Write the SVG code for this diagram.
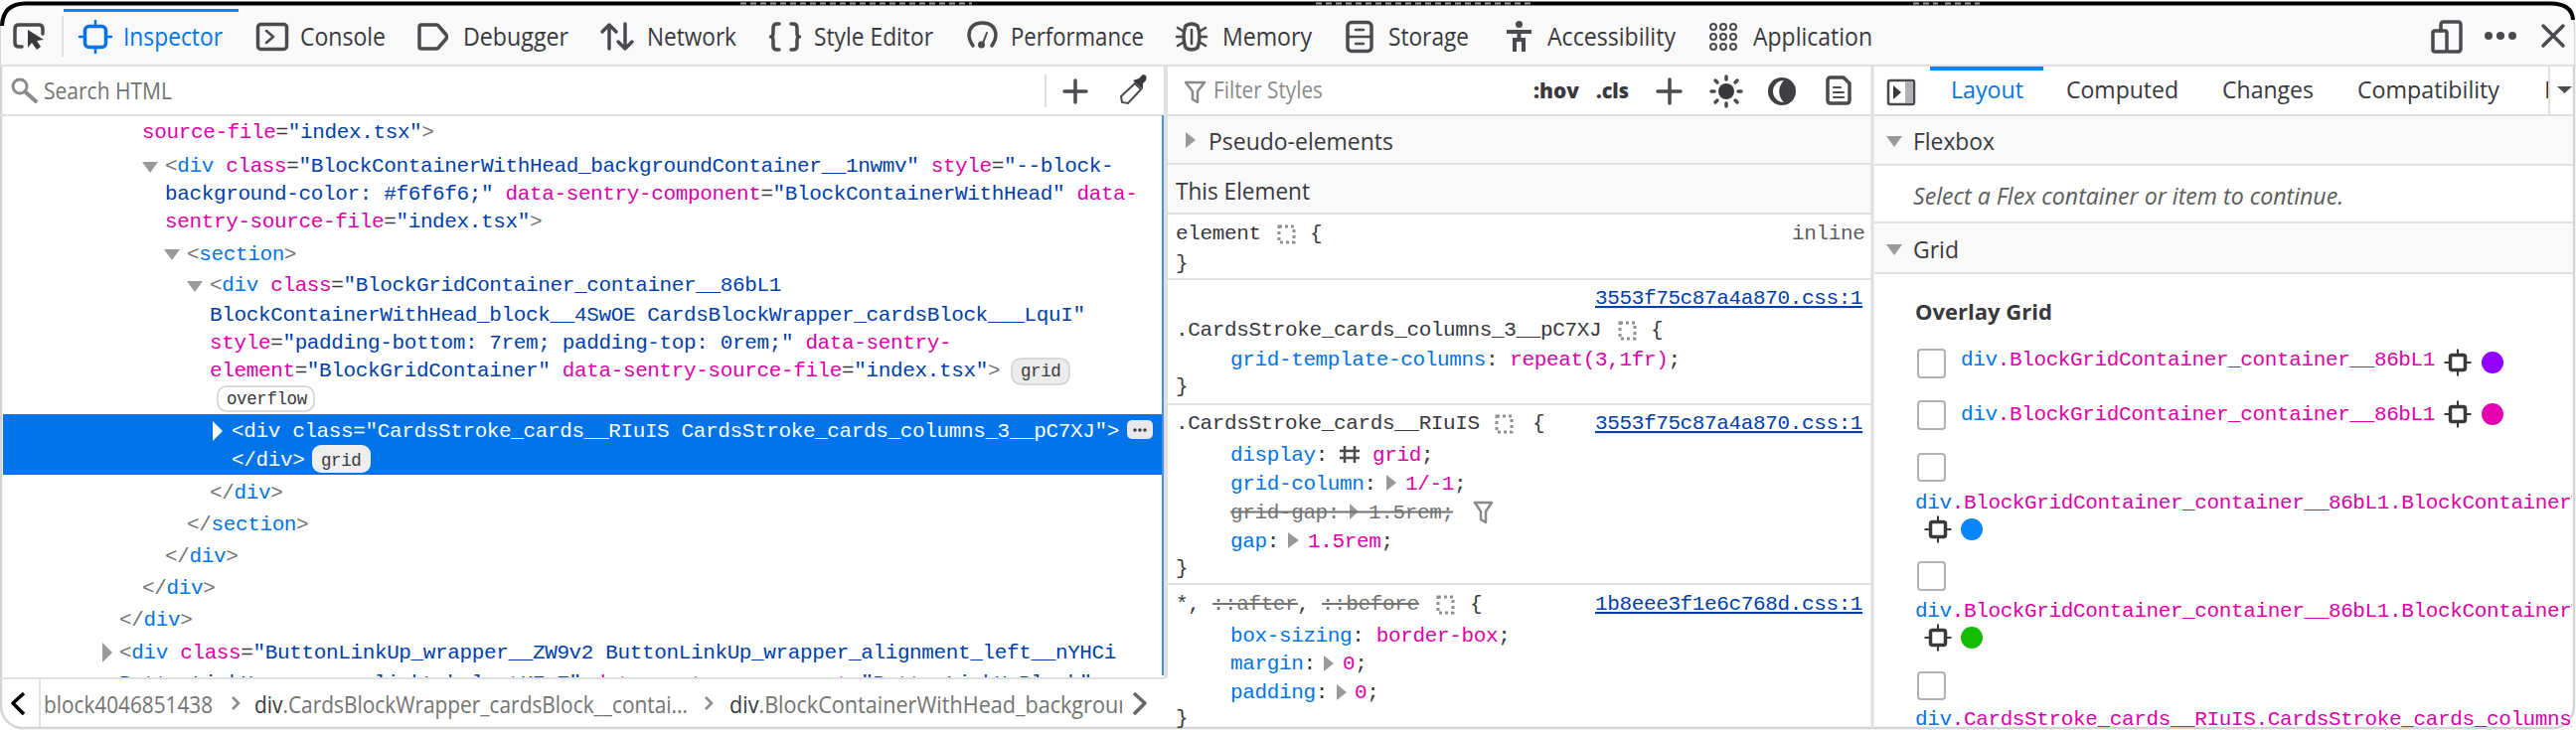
<svg xmlns="http://www.w3.org/2000/svg" width="2592" height="735" viewBox="0 0 2592 735">
<style>
text{white-space:pre}
.m{font-family:"Liberation Mono","DejaVu Sans Mono",monospace;font-size:21px;letter-spacing:-.37px;fill:#38383d}
.u{font-family:"Open Sans","Noto Sans",sans-serif;font-size:25px;fill:#38383d}
.s{font-size:24px}
.t{fill:#0074e8}.a{fill:#dd00a9}.v{fill:#003eaa}.p{fill:#737373}.d{fill:#38383d}.g{fill:#737373}
.w{fill:#fff}
.b{font-family:"Liberation Mono",monospace;font-size:17.5px;letter-spacing:-.4px;fill:#38383d}
.line{stroke:#e0e0e2;stroke-width:2;fill:none}
.ic{fill:none;stroke:#4a4a4f;stroke-width:3.5;stroke-linecap:round;stroke-linejoin:round}
.ig{fill:none;stroke:#8a8a8a;stroke-width:3;stroke-linecap:round;stroke-linejoin:round}
.tri{fill:#999}
.band{fill:#f9f9fa}
.cb{fill:#fff;stroke:#b1b1b3;stroke-width:2}
.dash{fill:none;stroke:#8f8f8f;stroke-width:3;stroke-dasharray:3 3}
.lnk{fill:#003eaa;text-decoration:underline}
.strike{stroke:#737373;stroke-width:2}
.gi{fill:none;stroke:#38383d;stroke-width:3.5;stroke-linejoin:round}
.gt{stroke:#38383d;stroke-width:2}
</style>
<defs>
<clipPath id="cm"><rect x="0" y="116" width="1169" height="566"/></clipPath>
<clipPath id="cf"><rect x="41" y="684" width="1088" height="48"/></clipPath>
<clipPath id="cr"><rect x="1886" y="116" width="702" height="616"/></clipPath>
<clipPath id="ct"><rect x="2500" y="67" width="65" height="48"/></clipPath>
<g id="gridicon"><rect x="-7.5" y="-7.5" width="15" height="15" rx="2" class="gi"/><path d="M0-13.5V-8M0 8V13.5M-13.5 0H-8M8 0H13.5" class="gt"/></g>
</defs>
<rect width="2592" height="735" fill="#fff"/>
<rect x="1" y="3" width="2589" height="730" rx="22" fill="#fff" stroke="#d4d4d6" stroke-width="2.5"/>
<g id="toolbar">
<path d="M1 30Q1 5 24 5H2568Q2590 5 2590 30V65H1Z" class="band"/>
<path d="M2 26Q3 3.500 26 3.500H2566Q2588 3.500 2589 20" fill="none" stroke="#000" stroke-width="4"/>
<path d="M745 3.500H978M1324 3.500H1542M1925 3.500H1950M1957 3.500H1992" stroke="#9a9a9a" stroke-width="2" stroke-dasharray="6 4"/>
<path d="M0 66H2592" class="line"/>
<path d="M63 16V57" class="line"/>
<rect x="64" y="9" width="176" height="3" fill="#0a84ff"/>
<path d="M22 47H19Q15 47 15 43V29Q15 25 19 25H39Q43 25 43 29V34" class="ic"/>
<path d="M28 30L28 48L32 43L37 50L41 47L37 41L44 40Z" fill="#38383d"/>
<g fill="none" stroke="#0074e8" stroke-linecap="round"><rect x="85.5" y="26.5" width="21" height="21" rx="4" stroke-width="3.5"/><path d="M96 21V26M96 48V53M80 37H85M107 37H112" stroke-width="2.5"/></g>
<text class="u" x="124" y="46" textLength="100" lengthAdjust="spacingAndGlyphs" style="fill:#0074e8">Inspector</text>
<rect x="259.500" y="24.500" width="29" height="25" rx="3" class="ic"/><path d="M268 31L275 37L268 43" class="ic" style="stroke-width:2.500"/>
<text class="u" x="302" y="46" textLength="86" lengthAdjust="spacingAndGlyphs">Console</text>
<path d="M424 25H439Q441 25 442 27L449 35Q450 37 449 39L442 47Q441 49 439 49H424Q422 49 422 47V27Q422 25 424 25Z" class="ic"/>
<text class="u" x="466" y="46" textLength="106" lengthAdjust="spacingAndGlyphs">Debugger</text>
<path d="M613 49V25M606 32L613 25L620 32M629 24V49M622 42L629 49L636 42" class="ic"/>
<text class="u" x="651" y="46" textLength="90" lengthAdjust="spacingAndGlyphs">Network</text>
<path d="M784 24H782Q778 24 778 28V33Q778 37 775.500 37Q778 37 778 41V46Q778 50 782 50H784M796 24H798Q802 24 802 28V33Q802 37 804.500 37Q802 37 802 41V46Q802 50 798 50H796" class="ic"/>
<text class="u" x="819" y="46" textLength="120" lengthAdjust="spacingAndGlyphs">Style Editor</text>
<path d="M979 46Q975 40 975 35Q976 23 988.500 23Q1001 23 1002 35Q1002 40 998 46" class="ic"/><path d="M988 46L993 33" class="ic" style="stroke-width:2"/><circle cx="987.500" cy="45" r="3.500" fill="#4a4a4f"/>
<text class="u" x="1017" y="46" textLength="134" lengthAdjust="spacingAndGlyphs">Performance</text>
<path d="M1193 26Q1199 22 1205 26Q1209 37 1205 48Q1199 52 1193 48Q1189 37 1193 26Z" class="ic"/><path d="M1199 30V44M1185 28L1190 31M1184 37H1189M1185 46L1190 43M1213 28L1208 31M1214 37H1209M1213 46L1208 43" class="ic" style="stroke-width:2.500"/>
<text class="u" x="1230" y="46" textLength="90" lengthAdjust="spacingAndGlyphs">Memory</text>
<rect x="1356" y="22.500" width="24" height="29" rx="4" class="ic"/><path d="M1356 37H1380M1364 30H1372M1364 44H1372" class="ic" style="stroke-width:2.500"/>
<text class="u" x="1397" y="46" textLength="81" lengthAdjust="spacingAndGlyphs">Storage</text>
<circle cx="1528.500" cy="24.500" r="3.500" fill="#4a4a4f"/><path d="M1516 32H1541M1528.500 32V40M1524 52V40H1533V52" fill="none" stroke="#4a4a4f" stroke-width="4"/>
<text class="u" x="1557" y="46" textLength="129" lengthAdjust="spacingAndGlyphs">Accessibility</text>
<g fill="none" stroke="#4a4a4f" stroke-width="2"><circle cx="1724" cy="27" r="3"/><circle cx="1734" cy="27" r="3"/><circle cx="1744" cy="27" r="3"/><circle cx="1724" cy="37" r="3"/><circle cx="1734" cy="37" r="3"/><circle cx="1744" cy="37" r="3"/><circle cx="1724" cy="47" r="3"/><circle cx="1734" cy="47" r="3"/><circle cx="1744" cy="47" r="3"/></g>
<text class="u" x="1764" y="46" textLength="120" lengthAdjust="spacingAndGlyphs">Application</text>
<path d="M2456 31V25Q2456 22 2459 22H2473Q2476 22 2476 25V49Q2476 52 2473 52H2463" class="ic"/><rect x="2448" y="31" width="14" height="21" rx="2" class="ic"/>
<circle cx="2504" cy="36" r="4" fill="#4a4a4f"/><circle cx="2516" cy="36" r="4" fill="#4a4a4f"/><circle cx="2528" cy="36" r="4" fill="#4a4a4f"/>
<path d="M2559 26L2579 46M2579 26L2559 46" class="ic"/>
</g>
<g id="search-bar">
<circle cx="20" cy="87" r="7" class="ig"/><path d="M26 93L36 102" class="ig" style="stroke-width:4"/>
<text class="u" x="44" y="100" textLength="129" lengthAdjust="spacingAndGlyphs" style="font-size:23px;fill:#737373">Search HTML</text>
<path d="M1052 75V108" class="line"/>
<path d="M1071 92H1093M1082 81V103" class="ic"/>
<path d="M1129 103L1128 97L1142 84L1148 90L1135 104Z" fill="none" stroke="#4a4a4f" stroke-width="2"/><path d="M1140 81L1146 79L1150 75Q1155 75 1153 81L1150 84L1150 90Z" fill="#38383d"/>
<path d="M0 116H1171" class="line"/>
</g>
<g id="markup-view">
<rect x="1169" y="116" width="2" height="564" fill="#4a90e2"/>
<path d="M1173 66V683" stroke="#e0e0e2" stroke-width="4"/>
<rect x="3" y="417" width="1166" height="61" fill="#0074e8"/>
<g clip-path="url(#cm)">
<text class="m" x="143" y="139"><tspan class="a">source-file</tspan><tspan class="d">=</tspan><tspan class="v">"index.tsx"</tspan><tspan class="p">&gt;</tspan></text>
<path class="tri" d="M143 163H159L151 174Z"/>
<text class="m" x="166" y="173"><tspan class="p">&lt;</tspan><tspan class="t">div</tspan> <tspan class="a">class</tspan><tspan class="d">=</tspan><tspan class="v">"BlockContainerWithHead_backgroundContainer__1nwmv"</tspan> <tspan class="a">style</tspan><tspan class="d">=</tspan><tspan class="v">"--block-</tspan></text>
<text class="m" x="166" y="201"><tspan class="v">background-color: #f6f6f6;"</tspan> <tspan class="a">data-sentry-component</tspan><tspan class="d">=</tspan><tspan class="v">"BlockContainerWithHead"</tspan> <tspan class="a">data-</tspan></text>
<text class="m" x="166" y="229"><tspan class="a">sentry-source-file</tspan><tspan class="d">=</tspan><tspan class="v">"index.tsx"</tspan><tspan class="p">&gt;</tspan></text>
<path class="tri" d="M165 251H181L173 262Z"/>
<text class="m" x="188" y="262"><tspan class="p">&lt;</tspan><tspan class="t">section</tspan><tspan class="p">&gt;</tspan></text>
<path class="tri" d="M188 283H204L196 294Z"/>
<text class="m" x="211" y="293"><tspan class="p">&lt;</tspan><tspan class="t">div</tspan> <tspan class="a">class</tspan><tspan class="d">=</tspan><tspan class="v">"BlockGridContainer_container__86bL1</tspan></text>
<text class="m" x="211" y="323"><tspan class="v">BlockContainerWithHead_block__4SwOE CardsBlockWrapper_cardsBlock___LquI"</tspan></text>
<text class="m" x="211" y="351"><tspan class="a">style</tspan><tspan class="d">=</tspan><tspan class="v">"padding-bottom: 7rem; padding-top: 0rem;"</tspan> <tspan class="a">data-sentry-</tspan></text>
<text class="m" x="211" y="379"><tspan class="a">element</tspan><tspan class="d">=</tspan><tspan class="v">"BlockGridContainer"</tspan> <tspan class="a">data-sentry-source-file</tspan><tspan class="d">=</tspan><tspan class="v">"index.tsx"</tspan><tspan class="p">&gt;</tspan></text>
<rect x="1018" y="361" width="58" height="26" rx="9" fill="#ececec" stroke="#d0d0d0" stroke-width="1.500"/>
<text class="b" x="1027" y="379">grid</text>
<rect x="219" y="389" width="97" height="25" rx="9" fill="#fff" stroke="#cfcfcf" stroke-width="1.500"/>
<text class="b" x="228" y="407">overflow</text>
<path d="M214 424L224 434L214 444Z" fill="#fff"/>
<text class="m" x="233" y="440" style="fill:#fff">&lt;div class="CardsStroke_cards__RIuIS CardsStroke_cards_columns_3__pC7XJ"&gt;</text>
<rect x="1134" y="423" width="26" height="19" rx="5" fill="#e8e8ea"/><circle cx="1142" cy="433" r="1.700" fill="#38383d"/><circle cx="1147" cy="433" r="1.700" fill="#38383d"/><circle cx="1152" cy="433" r="1.700" fill="#38383d"/>
<text class="m" x="233" y="469" style="fill:#fff">&lt;/div&gt;</text>
<rect x="314" y="448" width="59" height="28" rx="9" fill="#eeeeee"/>
<text class="b" x="323" y="469">grid</text>
<text class="m" x="211" y="502"><tspan class="p">&lt;/</tspan><tspan class="t">div</tspan><tspan class="p">&gt;</tspan></text>
<text class="m" x="188" y="534"><tspan class="p">&lt;/</tspan><tspan class="t">section</tspan><tspan class="p">&gt;</tspan></text>
<text class="m" x="166" y="566"><tspan class="p">&lt;/</tspan><tspan class="t">div</tspan><tspan class="p">&gt;</tspan></text>
<text class="m" x="143" y="598"><tspan class="p">&lt;/</tspan><tspan class="t">div</tspan><tspan class="p">&gt;</tspan></text>
<text class="m" x="120" y="630"><tspan class="p">&lt;/</tspan><tspan class="t">div</tspan><tspan class="p">&gt;</tspan></text>
<path class="tri" d="M103 647L113 657L103 667Z"/>
<text class="m" x="120" y="663"><tspan class="p">&lt;</tspan><tspan class="t">div</tspan> <tspan class="a">class</tspan><tspan class="d">=</tspan><tspan class="v">"ButtonLinkUp_wrapper__ZW9v2 ButtonLinkUp_wrapper_alignment_left__nYHCi</tspan></text>
<text class="m" x="120" y="694"><tspan class="v">ButtonLinkUp_wrapper_linkLabel__tK7_Z"</tspan> <tspan class="a">data-sentry-component</tspan><tspan class="d">=</tspan><tspan class="v">"ButtonLinkUpBlock"</tspan></text>
</g>
</g>
<g id="breadcrumbs">
<path d="M3 683H1171" class="line"/>
<path d="M40 684V732" class="line"/>
<path d="M24 698L13 708L24 719" fill="none" stroke="#000" stroke-width="3.500" stroke-linejoin="round"/>
<g clip-path="url(#cf)">
<text class="u" x="44" y="718" textLength="170" lengthAdjust="spacingAndGlyphs" style="font-size:23px;fill:#737373">block4046851438</text>
<text class="u" x="256" y="718" textLength="436" lengthAdjust="spacingAndGlyphs" style="font-size:23px;fill:#737373"><tspan class="d">div</tspan>.CardsBlockWrapper_cardsBlock__contai...</text>
<text class="u" x="734" y="718" textLength="400" lengthAdjust="spacingAndGlyphs" style="font-size:23px;fill:#737373"><tspan class="d">div</tspan>.BlockContainerWithHead_backgrour</text>
</g>
<path d="M234 702L240 708L234 714M710 702L716 708L710 714" fill="none" stroke="#8a8a8a" stroke-width="2.500"/>
<path d="M1141 698L1152 708L1141 719" fill="none" stroke="#666" stroke-width="3.500" stroke-linejoin="round"/>
</g>
<g id="rules-view">
<path d="M1175 67H1883V116H1175Z" fill="#fff"/>
<path d="M1193 83H1212L1205 92V103L1200 100V92Z" class="ig" style="stroke-width:2.500"/>
<text class="u" x="1221" y="99" textLength="110" lengthAdjust="spacingAndGlyphs" style="font-size:23px;fill:#8a8a8a">Filter Styles</text>
<text class="u" x="1543" y="99" textLength="46" lengthAdjust="spacingAndGlyphs" style="font-size:21px;font-weight:800;fill:#38383d">:hov</text>
<text class="u" x="1606" y="99" textLength="33" lengthAdjust="spacingAndGlyphs" style="font-size:21px;font-weight:800;fill:#38383d">.cls</text>
<path d="M1668 92H1691M1680 80V104" class="ic"/>
<circle cx="1737" cy="92" r="8" fill="#38383d"/><path d="M1737 77V80M1737 104V107M1722 92H1725M1749 92H1752M1726 81L1728 83M1746 101L1748 103M1748 81L1746 83M1728 101L1726 103" class="ic"/>
<circle cx="1793" cy="92" r="14" fill="#3f3f44"/><path d="M1795 81A11 11 0 0 0 1795 103A15 15 0 0 1 1795 81Z" fill="#fff"/>
<path d="M1842 78H1855L1861 84V101Q1861 104 1858 104H1842Q1839 104 1839 101V81Q1839 78 1842 78Z" class="ic"/><path d="M1845 88H1852M1845 93H1855M1845 98H1855" class="ic" style="stroke-width:2"/>
<path d="M1175 116H1883" class="line"/>
<rect x="1175" y="117" width="708" height="47" class="band"/>
<path class="tri" d="M1193 133L1203 141L1193 149Z"/>
<text class="u" x="1216" y="151" textLength="186" lengthAdjust="spacingAndGlyphs" style="font-size:24px">Pseudo-elements</text>
<path d="M1175 165H1883" class="line"/>
<rect x="1175" y="166" width="708" height="48" class="band"/>
<text class="u" x="1183" y="201" textLength="135" lengthAdjust="spacingAndGlyphs" style="font-size:24px">This Element</text>
<path d="M1175 215H1883" class="line"/>
<text class="m" x="1183" y="241">element</text><rect x="1287" y="228" width="15" height="16" class="dash"/><text class="m" x="1318" y="241">{</text><text class="m" x="1803" y="241" style="fill:#5c5c5c">inline</text>
<text class="m" x="1183" y="271">}</text>
<path d="M1175 281H1883" class="line"/>
<text class="m lnk" x="1605" y="306">3553f75c87a4a870.css:1</text>
<text class="m" x="1183" y="338">.CardsStroke_cards_columns_3__pC7XJ</text><rect x="1630" y="325" width="15" height="16" class="dash"/><text class="m" x="1661" y="338">{</text>
<text class="m" x="1238" y="368"><tspan class="t">grid-template-columns</tspan>: <tspan class="a">repeat(3,1fr)</tspan>;</text>
<text class="m" x="1183" y="395">}</text>
<path d="M1175 407H1883" class="line"/>
<text class="m" x="1183" y="432">.CardsStroke_cards__RIuIS</text><rect x="1506" y="419" width="15" height="16" class="dash"/><text class="m" x="1542" y="432">{</text>
<text class="m lnk" x="1605" y="432">3553f75c87a4a870.css:1</text>
<text class="m" x="1238" y="464"><tspan class="t">display</tspan>:</text>
<path d="M1353 449V466M1363 449V466M1348 454H1368M1348 461H1368" fill="none" stroke="#4a4a4f" stroke-width="2.500"/>
<text class="m" x="1381" y="464"><tspan class="a">grid</tspan>;</text>
<text class="m" x="1238" y="493"><tspan class="t">grid-column</tspan>:</text><path class="tri" d="M1395 478L1405 486L1395 494Z"/><text class="m" x="1414" y="493"><tspan class="a">1/-1</tspan>;</text>
<text class="m" x="1238" y="522" style="fill:#737373">grid-gap:</text><path class="tri" d="M1358 507L1367 515L1358 523Z"/><text class="m" x="1377" y="522" style="fill:#737373">1.5rem;</text>
<path d="M1238 515.500H1462" class="strike"/>
<path d="M1484 506H1501L1495 515V526L1490 523V515Z" class="ig" style="stroke-width:2.500"/>
<text class="m" x="1238" y="551"><tspan class="t">gap</tspan>:</text><path class="tri" d="M1296 536L1307 544L1296 552Z"/><text class="m" x="1316" y="551"><tspan class="a">1.5rem</tspan>;</text>
<text class="m" x="1183" y="578">}</text>
<path d="M1175 588H1883" class="line"/>
<text class="m" x="1183" y="614">*, <tspan class="p">::after</tspan>, <tspan class="p">::before</tspan></text>
<path d="M1220 608H1306M1330 608H1428" class="strike"/>
<rect x="1447" y="601" width="15" height="16" class="dash"/><text class="m" x="1479" y="614">{</text>
<text class="m lnk" x="1605" y="614">1b8eee3f1e6c768d.css:1</text>
<text class="m" x="1238" y="646"><tspan class="t">box-sizing</tspan>: <tspan class="a">border-box</tspan>;</text>
<text class="m" x="1238" y="674"><tspan class="t">margin</tspan>:</text><path class="tri" d="M1332 660L1342 668L1332 676Z"/><text class="m" x="1351" y="674"><tspan class="a">0</tspan>;</text>
<text class="m" x="1238" y="703"><tspan class="t">padding</tspan>:</text><path class="tri" d="M1345 689L1355 697L1345 705Z"/><text class="m" x="1363" y="703"><tspan class="a">0</tspan>;</text>
<text class="m" x="1183" y="729">}</text>
</g>
<g id="sidebar">
<path d="M1884 66V733" stroke="#e0e0e2" stroke-width="3"/>
<rect x="1900" y="81" width="26" height="24" rx="2" fill="#fff" stroke="#4a4a4f" stroke-width="2.500"/><rect x="1917" y="82" width="8" height="22" fill="#b1b1b3"/><path d="M1905 86L1913 93L1905 100Z" fill="#38383d"/>
<rect x="1942" y="67" width="114" height="4" fill="#0a84ff"/>
<text class="u s" x="1963" y="99" textLength="73" lengthAdjust="spacingAndGlyphs" style="fill:#0074e8">Layout</text>
<text class="u s" x="2079" y="99" textLength="113" lengthAdjust="spacingAndGlyphs">Computed</text>
<text class="u s" x="2236" y="99" textLength="92" lengthAdjust="spacingAndGlyphs">Changes</text>
<text class="u s" x="2372" y="99" textLength="143" lengthAdjust="spacingAndGlyphs">Compatibility</text>
<text class="u s" x="2560" y="99" clip-path="url(#ct)">Fonts</text>
<path d="M2565 67V115" class="line"/>
<path d="M2573 87H2588L2580.500 94Z" fill="#4a4a4f"/>
<path d="M1886 116H2589" class="line"/>
<rect x="1886" y="117" width="703" height="48" class="band"/>
<path class="tri" d="M1898 137H1914L1906 148Z"/>
<text class="u s" x="1925" y="151" textLength="82" lengthAdjust="spacingAndGlyphs">Flexbox</text>
<path d="M1886 166H2589" class="line"/>
<text class="u" x="1925" y="206" textLength="433" lengthAdjust="spacingAndGlyphs" style="font-size:23px;font-style:italic;fill:#5c5c5c">Select a Flex container or item to continue.</text>
<path d="M1886 224H2589" class="line"/>
<rect x="1886" y="225" width="703" height="49" class="band"/>
<path class="tri" d="M1898 246H1914L1906 257Z"/>
<text class="u s" x="1925" y="260" textLength="46" lengthAdjust="spacingAndGlyphs">Grid</text>
<path d="M1886 275H2589" class="line"/>
<text class="u" x="1927" y="322" textLength="138" lengthAdjust="spacingAndGlyphs" style="font-size:22px;font-weight:700">Overlay Grid</text>
<rect x="1930" y="352" width="27" height="28" rx="3" class="cb"/>
<text class="m" x="1973" y="368"><tspan class="t">div</tspan><tspan class="a">.BlockGridContainer_container__86bL1</tspan></text>
<use href="#gridicon" x="2473" y="365"/><circle cx="2508" cy="365" r="11" fill="#9400ff"/>
<rect x="1930" y="404" width="27" height="28" rx="3" class="cb"/>
<text class="m" x="1973" y="423"><tspan class="t">div</tspan><tspan class="a">.BlockGridContainer_container__86bL1</tspan></text>
<use href="#gridicon" x="2473" y="417"/><circle cx="2508" cy="417" r="11" fill="#e400b0"/>
<g clip-path="url(#cr)">
<rect x="1930" y="457" width="27" height="27" rx="3" class="cb"/>
<text class="m" x="1927" y="512"><tspan class="t">div</tspan><tspan class="a">.BlockGridContainer_container__86bL1.BlockContainerWithHead_block__4SwOE</tspan></text>
<use href="#gridicon" x="1950" y="533"/><circle cx="1984" cy="533" r="11" fill="#0a84ff"/>
<rect x="1930" y="566" width="27" height="28" rx="3" class="cb"/>
<text class="m" x="1927" y="621"><tspan class="t">div</tspan><tspan class="a">.BlockGridContainer_container__86bL1.BlockContainerWithHead_block__4SwOE</tspan></text>
<use href="#gridicon" x="1950" y="642"/><circle cx="1984" cy="642" r="11" fill="#12bc00"/>
<rect x="1930" y="677" width="27" height="27" rx="3" class="cb"/>
<text class="m" x="1927" y="730"><tspan class="t">div</tspan><tspan class="a">.CardsStroke_cards__RIuIS.CardsStroke_cards_columns_3__pC7XJ</tspan></text>
</g>
</g>
</svg>
